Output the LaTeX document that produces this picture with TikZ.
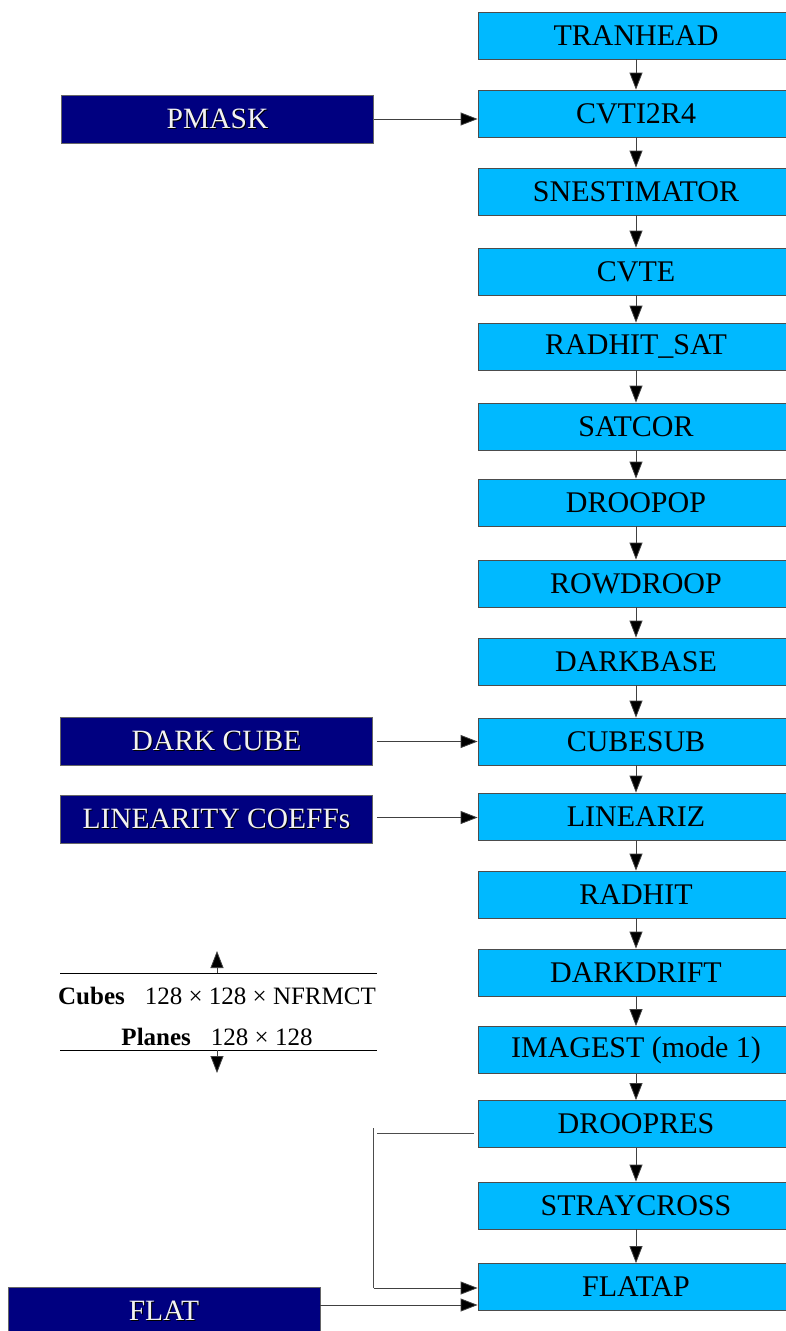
\documentclass[tikz,border=0pt]{standalone}
\usepackage{fontspec}
\setmainfont{Liberation Serif}
\usetikzlibrary{arrows.meta,calc}
\newcommand\engr[1]{\rlap{\kern1pt\raisebox{-1pt}{\color{black}#1}}{\color{white!90!gray}#1}}
\tikzset{
  proc/.style={draw=black!70, line width=0.8pt, fill=procblue, minimum width=316pt, minimum height=47pt,
    inner sep=0pt, font=\fontsize{30}{30}\selectfont, text=black},
  inp/.style={draw=black!60, line width=0.8pt, fill=inpnavy, minimum width=312pt, minimum height=48pt,
    inner sep=0pt, font=\fontsize{29.5}{30}\selectfont},
  flow/.style={draw=black!75, line width=0.8pt, -{Triangle[length=17pt,width=13pt,fill=black]}},
  rule/.style={draw=black, line width=0.8pt},
}
\definecolor{procblue}{RGB}{0,185,255}
\definecolor{inpnavy}{RGB}{0,0,128}
\newcommand\lowr[1]{\raisebox{-1.5pt}{#1}}
\begin{document}
\begin{tikzpicture}[x=1pt,y=-1pt]
\useasboundingbox (0,0) rectangle (786,1331);
% process column
\node[proc] (tranhead) at (636,35.5) {\lowr{TRANHEAD}};
\node[proc] (cvti) at (636,113.5) {\lowr{CVTI2R4}};
\node[proc] (snest) at (636,191.5) {\lowr{SNESTIMATOR}};
\node[proc] (cvte) at (636,271.5) {\lowr{CVTE}};
\node[proc] (radsat) at (636,346.5) {\lowr{RADHIT\_SAT}};
\node[proc] (satcor) at (636,426.5) {\lowr{SATCOR}};
\node[proc] (droopop) at (636,502.5) {\lowr{DROOPOP}};
\node[proc] (rowdroop) at (636,583.5) {\lowr{ROWDROOP}};
\node[proc] (darkbase) at (636,661.5) {\lowr{DARKBASE}};
\node[proc] (cubesub) at (636,741.5) {\lowr{CUBESUB}};
\node[proc] (lineariz) at (636,816.5) {\lowr{LINEARIZ}};
\node[proc] (radhit) at (636,894.5) {\lowr{RADHIT}};
\node[proc] (darkdrift) at (636,972.5) {\lowr{DARKDRIFT}};
\node[proc] (imagest) at (636,1050) {\lowr{IMAGEST (mode 1)}};
\node[proc] (droopres) at (636,1124) {\lowr{DROOPRES}};
\node[proc] (straycross) at (636,1205.5) {\lowr{STRAYCROSS}};
\node[proc] (flatap) at (636,1287) {\lowr{FLATAP}};
\foreach \a/\b in {tranhead/cvti,cvti/snest,snest/cvte,cvte/radsat,radsat/satcor,satcor/droopop,
  droopop/rowdroop,rowdroop/darkbase,darkbase/cubesub,cubesub/lineariz,lineariz/radhit,
  radhit/darkdrift,darkdrift/imagest,imagest/droopres,droopres/straycross,straycross/flatap}
  \draw[flow] (\a.south) -- (\b.north);
% inputs
\node[inp] (pmask) at (217.5,119) {\lowr{\engr{PMASK}}};
\node[inp] (darkcube) at (216.5,741.5) {\lowr{\engr{DARK CUBE}}};
\node[inp] (lincoef) at (216.5,819.5) {\lowr{\engr{LINEARITY COEFFs}}};
\node[inp] (flat) at (164,1311) {\engr{FLAT}};
\draw[flow] (pmask.east) -- (pmask.east -| cvti.west);
\draw[flow] ([xshift=4pt]darkcube.east) -- (darkcube.east -| cubesub.west);
\draw[flow] ([xshift=4pt,yshift=2pt]lincoef.east) -- ([yshift=2pt]lincoef.east -| lineariz.west);
\draw[flow] ([yshift=6pt]flat.east) -- ([yshift=6pt]flat.east -| flatap.west);
% bypass from DROOPRES to FLATAP
\coordinate (bpA) at ($(droopres.west)+(-4,9)$);
\coordinate (bpB) at ($(droopres.west)+(-101,9)$);
\coordinate (bpC) at ($(droopres.west)+(-104,4)$);
\coordinate (bpD) at ($(flatap.west)+(-104,1)$);
\draw[black!70, line width=0.8pt] (bpA) -- (bpB);
\draw[black!70, line width=0.8pt] (bpC) -- (bpD);
\draw[flow] (bpD) -- (bpD -| flatap.west);
% legend
\node[font=\fontsize{25}{41}\selectfont, align=center, inner sep=0pt, anchor=base] (legend) at (217,1045)
  {\textbf{Cubes}\hspace{0.8em}128 × 128 × NFRMCT\\\textbf{Planes}\hspace{0.8em}128 × 128};
\coordinate (lt1) at (60,973);
\coordinate (lt2) at (377,973);
\coordinate (lb1) at (60,1050);
\coordinate (lb2) at (377,1050);
\coordinate (upTip) at (217,951);
\coordinate (dnTip) at (217,1073);
\draw[rule] (lt1) -- (lt2);
\draw[rule] (lb1) -- (lb2);
\draw[flow] (lt1 -| upTip) -- (upTip);
\draw[flow] (lb1 -| dnTip) -- (dnTip);
\end{tikzpicture}
\end{document}
